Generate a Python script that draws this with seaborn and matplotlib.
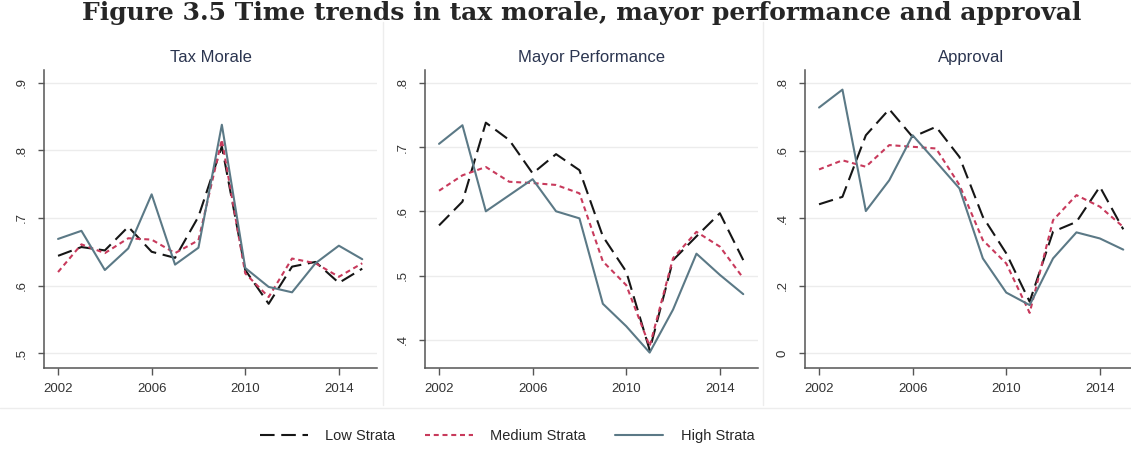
import matplotlib
matplotlib.use("Agg")
import matplotlib.pyplot as plt
from matplotlib.lines import Line2D
import seaborn as sns
import pandas as pd

years = list(range(2002, 2016))
strata = ["Low Strata", "Medium Strata", "High Strata"]

tax_low = [0.644, 0.657, 0.652, 0.687, 0.650, 0.641, 0.702, 0.806, 0.623, 0.573, 0.628, 0.635, 0.604, 0.625]
tax_med = [0.620, 0.661, 0.648, 0.670, 0.668, 0.648, 0.667, 0.816, 0.618, 0.583, 0.640, 0.633, 0.613, 0.633]
tax_high = [0.669, 0.681, 0.623, 0.655, 0.735, 0.631, 0.656, 0.838, 0.626, 0.598, 0.590, 0.633, 0.659, 0.639]

mayor_low = [0.578, 0.615, 0.738, 0.711, 0.659, 0.689, 0.664, 0.561, 0.506, 0.384, 0.524, 0.561, 0.597, 0.524]
mayor_med = [0.632, 0.656, 0.669, 0.646, 0.644, 0.641, 0.628, 0.522, 0.485, 0.390, 0.527, 0.568, 0.545, 0.496]
mayor_high = [0.705, 0.734, 0.600, 0.625, 0.650, 0.600, 0.589, 0.456, 0.421, 0.380, 0.447, 0.534, 0.501, 0.471]

appr_low = [0.441, 0.463, 0.645, 0.722, 0.640, 0.670, 0.581, 0.404, 0.296, 0.153, 0.360, 0.389, 0.493, 0.367]
appr_med = [0.544, 0.571, 0.552, 0.616, 0.611, 0.606, 0.498, 0.335, 0.266, 0.120, 0.394, 0.468, 0.434, 0.374]
appr_high = [0.727, 0.780, 0.421, 0.512, 0.645, 0.567, 0.488, 0.281, 0.180, 0.143, 0.281, 0.358, 0.340, 0.307]

panel_titles = ["Tax Morale", "Mayor Performance", "Approval"]
ytick_vals = [[0.5, 0.6, 0.7, 0.8, 0.9], [0.4, 0.5, 0.6, 0.7, 0.8], [0.0, 0.2, 0.4, 0.6, 0.8]]
ytick_labels = [[".5", ".6", ".7", ".8", ".9"], [".4", ".5", ".6", ".7", ".8"], ["0", ".2", ".4", ".6", ".8"]]
xtick_vals = [2002, 2006, 2010, 2014]

series = [
    (tax_low, tax_med, tax_high),
    (mayor_low, mayor_med, mayor_high),
    (appr_low, appr_med, appr_high),
]

frames = []
for title, (lo, me, hi) in zip(panel_titles, series):
    for name, vals in zip(strata, (lo, me, hi)):
        frames.append(pd.DataFrame({"panel": title, "year": years, "strata": name, "value": vals}))
df = pd.concat(frames, ignore_index=True)

sns.set_style("white")
plt.rcParams["font.family"] = ["Liberation Sans", "DejaVu Sans"]

palette = {"Low Strata": "#161616", "Medium Strata": "#c83a5c", "High Strata": "#5b7986"}
dashes = {"Low Strata": (7, 3.2), "Medium Strata": (2.4, 1.8), "High Strata": ""}

W, H = 1131, 453
fig = plt.figure(figsize=(W / 100, H / 100), dpi=100)
fig.patch.set_facecolor("white")

lefts = [44, 425, 805]
ax_w, top_px, bot_px = 333, 70, 368
ylims = [(0.478, 0.919), (0.356, 0.820), (-0.043, 0.838)]

for i, title in enumerate(panel_titles):
    ax = fig.add_axes([lefts[i] / W, 1 - bot_px / H, ax_w / W, (bot_px - top_px) / H])
    sub = df[df["panel"] == title]
    sns.lineplot(data=sub, x="year", y="value", hue="strata", style="strata",
                 palette=palette, dashes=dashes, hue_order=strata, style_order=strata,
                 linewidth=1.5, legend=False, ax=ax)
    ax.set_xlim(2001.4, 2015.63)
    ax.set_ylim(*ylims[i])
    ax.set_xticks(xtick_vals)
    ax.set_xticklabels([str(v) for v in xtick_vals], fontsize=9.5, color="#333333")
    ax.set_yticks(ytick_vals[i])
    ax.set_yticklabels(ytick_labels[i], fontsize=9.5, color="#333333", rotation=90, va="center")
    ax.set_xlabel("")
    ax.set_ylabel("")
    for y in ytick_vals[i]:
        ax.axhline(y, color="#ececec", lw=1.0, zorder=0)
    for s in ("top", "right"):
        ax.spines[s].set_visible(False)
    for s in ("left", "bottom"):
        ax.spines[s].set_color("#555555")
        ax.spines[s].set_linewidth(1.1)
    ax.tick_params(axis="x", direction="out", length=5, width=1, color="#555555", pad=6, bottom=True)
    ax.tick_params(axis="y", direction="out", length=4, width=1, color="#555555", pad=8, left=True)
    ax.set_title(title, fontsize=12, color="#2b3550", pad=6)

# panel separators
for xp in (383, 763):
    fig.add_artist(Line2D([xp / W, xp / W], [1 - 405 / H, 1 - 22 / H], color="#ededed", lw=1))
fig.add_artist(Line2D([0, 1], [1 - 408 / H, 1 - 408 / H], color="#ededed", lw=1))

fig.suptitle("Figure 3.5 Time trends in tax morale, mayor performance and approval",
             x=582 / W, y=1 - 1 / H, va="top", fontsize=18, fontweight="bold",
             family=["DejaVu Serif"])

handles = [Line2D([], [], color=palette[s], lw=1.5,
                  dashes=dashes[s] if dashes[s] else (None, None)) for s in strata]
handles[0] = Line2D([], [], color=palette["Low Strata"], lw=1.5, dashes=(7, 3.2))
leg = fig.legend(handles, strata, loc="center", bbox_to_anchor=(507 / W, 1 - 436 / H), ncol=3,
                 frameon=False, fontsize=10.5, handlelength=3.3, columnspacing=2.0,
                 handletextpad=1.2)

fig.savefig("out.png", dpi=100, facecolor="white")
